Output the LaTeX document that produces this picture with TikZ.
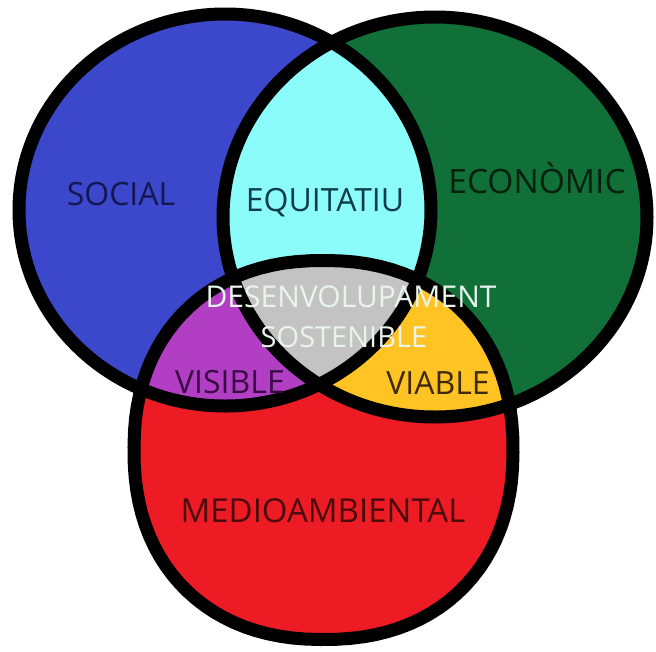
\documentclass[tikz,border=0pt]{standalone}
\usepackage{fontspec}
\setmainfont{Open Sans}
\definecolor{blueS}{RGB}{60,72,204}
\definecolor{greenE}{RGB}{16,112,56}
\definecolor{cyanEq}{RGB}{140,252,250}
\definecolor{redM}{RGB}{237,28,36}
\definecolor{purpleV}{RGB}{178,62,196}
\definecolor{yellowV}{RGB}{255,196,36}
\definecolor{grayC}{RGB}{195,195,195}
\definecolor{txtS}{RGB}{20,24,80}
\definecolor{txtEq}{RGB}{14,60,72}
\definecolor{txtE}{RGB}{6,32,15}
\definecolor{txtVis}{RGB}{58,12,69}
\definecolor{txtVia}{RGB}{60,42,8}
\definecolor{txtM}{RGB}{74,10,12}
\definecolor{txtD}{RGB}{232,244,236}
\def\socialpath{(225,210) ellipse [x radius=206pt, y radius=196pt]}
\def\econpath{(435,217) ellipse [x radius=212pt, y radius=200pt]}
\def\medpath{plot[domain=0.5:360.5, samples=101, variable=\t]
  ({323.5+189.5*sign(cos(\t))*abs(cos(\t))^0.9},{450+189.5*sign(sin(\t))*abs(sin(\t))^0.9}) -- cycle}
\tikzset{
  outline/.style={draw=black, line width=13pt, line join=round},
  lbl/.style={anchor=base, inner sep=0pt, font=\fontsize{32}{38}\selectfont},
  lblsmall/.style={anchor=base, inner sep=0pt, font=\fontsize{30}{36}\selectfont},
}
\begin{document}
\begin{tikzpicture}[x=1pt,y=-1pt]
\useasboundingbox (0,0) rectangle (656,651);
\fill[white] (0,0) rectangle (656,651);
% base fills
\fill[blueS] \socialpath;
\fill[greenE] \econpath;
\fill[redM] \medpath;
% pairwise intersections
\begin{scope}
  \clip \socialpath;
  \fill[cyanEq] \econpath;
  \fill[purpleV] \medpath;
\end{scope}
\begin{scope}
  \clip \econpath;
  \fill[yellowV] \medpath;
\end{scope}
\begin{scope}
  \clip \socialpath;
  \clip \econpath;
  \fill[grayC] \medpath;
\end{scope}
% outlines
\draw[outline] \socialpath;
\draw[outline] \econpath;
\draw[outline] \medpath;
% labels
\node[lbl, text=txtS] (social) at (121,205) {SOCIAL};
\node[lbl, text=txtEq] (equitatiu) at (325,211) {EQUITATIU};
\node[lbl, text=txtE, font=\fontsize{33.5}{38}\selectfont] (economic) at (537,193) {ECONÒMIC};
\node[lblsmall, text=txtD] (desenv) at (351,307) {DESENVOLUPAMENT};
\node[lblsmall, text=txtD, font=\fontsize{29}{36}\selectfont] (sost) at (344,347) {SOSTENIBLE};
\node[lbl, text=txtVis] (visible) at (230,393) {VISIBLE};
\node[lbl, text=txtVia] (viable) at (438,394) {VIABLE};
\node[lbl, text=txtM, font=\fontsize{33}{38}\selectfont] (medio) at (323,522) {MEDIOAMBIENTAL};
\end{tikzpicture}
\end{document}
